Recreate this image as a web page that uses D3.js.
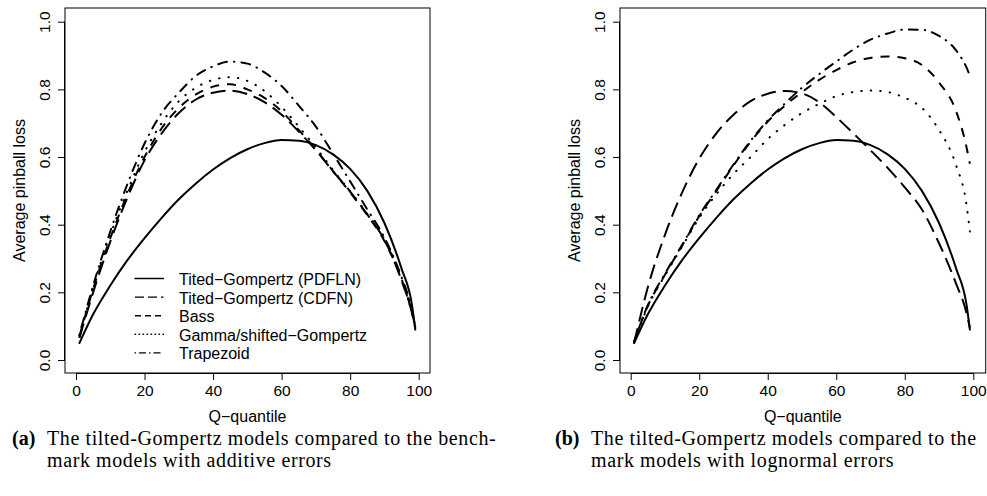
<!DOCTYPE html>
<html>
<head>
<meta charset="utf-8">
<script src="https://cdn.jsdelivr.net/npm/d3@7"></script>
<style>
  html, body { margin: 0; padding: 0; background: #fff; }
  svg { display: block; }
  .tick text, .lab { font-family: "Liberation Sans", Arial, Helvetica, sans-serif; fill: #000; }
  .cap { font-family: "Liberation Serif", "Times New Roman", serif; fill: #000; }
</style>
</head>
<body>
<svg id="fig" width="987" height="496"></svg>
<script>
// Quantile levels (Q) at which the average pinball loss is evaluated
const quantiles = [1, 5, 10, 15, 20, 25, 30, 35, 40, 45, 50, 55, 60, 65, 70, 75, 80, 85, 90, 95, 98, 99];

// Tilted-Gompertz (PDFLN) — same in both panels
const pdflnLoss = [0.05, 0.135, 0.22, 0.295, 0.36, 0.42, 0.475, 0.522, 0.563, 0.597, 0.623, 0.641, 0.650, 0.648, 0.635, 0.608, 0.565, 0.50, 0.405, 0.27, 0.165, 0.09];

// Panel (a): benchmark models with additive errors
const addCdfn  = [0.065, 0.20, 0.35, 0.48, 0.59, 0.67, 0.73, 0.77, 0.79, 0.796, 0.786, 0.762, 0.725, 0.675, 0.62, 0.558, 0.498, 0.43, 0.355, 0.235, 0.14, 0.095];
const addBass  = [0.07, 0.21, 0.36, 0.49, 0.60, 0.685, 0.745, 0.785, 0.808, 0.815, 0.80, 0.775, 0.735, 0.68, 0.622, 0.558, 0.495, 0.428, 0.352, 0.237, 0.142, 0.10];
const addGamma = [0.07, 0.215, 0.37, 0.50, 0.615, 0.70, 0.765, 0.805, 0.828, 0.836, 0.825, 0.795, 0.748, 0.69, 0.628, 0.562, 0.498, 0.432, 0.356, 0.24, 0.145, 0.10];
const addTrap  = [0.075, 0.22, 0.38, 0.52, 0.64, 0.73, 0.79, 0.84, 0.868, 0.882, 0.876, 0.85, 0.81, 0.752, 0.69, 0.61, 0.528, 0.445, 0.362, 0.245, 0.15, 0.10];

// Panel (b): benchmark models with lognormal errors
const logCdfn  = [0.05, 0.215, 0.37, 0.495, 0.595, 0.67, 0.725, 0.765, 0.787, 0.795, 0.788, 0.762, 0.718, 0.67, 0.62, 0.568, 0.51, 0.445, 0.345, 0.225, 0.14, 0.095];
const logBass  = [0.055, 0.16, 0.252, 0.338, 0.425, 0.50, 0.575, 0.645, 0.705, 0.752, 0.792, 0.828, 0.857, 0.88, 0.893, 0.897, 0.892, 0.872, 0.82, 0.735, 0.63, 0.58];
const logGamma = [0.055, 0.158, 0.25, 0.335, 0.42, 0.49, 0.55, 0.60, 0.653, 0.695, 0.73, 0.757, 0.78, 0.792, 0.797, 0.792, 0.775, 0.745, 0.68, 0.575, 0.46, 0.38];
const logTrap  = [0.055, 0.162, 0.255, 0.34, 0.428, 0.503, 0.578, 0.648, 0.708, 0.758, 0.805, 0.845, 0.882, 0.918, 0.947, 0.965, 0.977, 0.976, 0.958, 0.915, 0.865, 0.84];

const seriesNames = ["Tited\u2212Gompertz (PDFLN)", "Tited\u2212Gompertz (CDFN)", "Bass", "Gamma/shifted\u2212Gompertz", "Trapezoid"];
const xTicks = [0, 20, 40, 60, 80, 100];
const yTicks = [0.0, 0.2, 0.4, 0.6, 0.8, 1.0];
const yTickLabels = ["0.0", "0.2", "0.4", "0.6", "0.8", "1.0"];
const xTitle = "Q\u2212quantile";
const yTitle = "Average pinball loss";

// line styles for the five series (solid, long dash, dash, dotted, dot-dash)
const styles = [
  { dash: null,            cap: "round", legDash: null },
  { dash: "15,7",          cap: "butt",  legDash: "9,4" },
  { dash: "9,8",           cap: "butt",  legDash: "6,4" },
  { dash: "0.5,9",         cap: "round", legDash: "0.5,3.5" },
  { dash: "0.5,7,9,7",     cap: "round", legDash: "0.5,4,6,4" }
];

const svg = d3.select("#fig");

function panel(opts) {
  const { left, right, top, bottom, x0, x100, data, legend } = opts;
  const g = svg.append("g");

  const x = d3.scaleLinear().domain([0, 100]).range([x0, x100]);
  const y = d3.scaleLinear().domain([0, 1]).range([360, 21.7]);

  // plot box
  g.append("rect")
    .attr("x", left).attr("y", top)
    .attr("width", right - left).attr("height", bottom - top)
    .attr("fill", "none").attr("stroke", "#000").attr("stroke-width", 1);

  // x axis
  const xa = g.append("g")
    .attr("transform", `translate(0,${bottom})`)
    .call(d3.axisBottom(x).tickValues(xTicks).tickSize(7).tickSizeOuter(0).tickPadding(5).tickFormat(d3.format("d")));
  xa.select(".domain").attr("d", `M${x(0)},0.5H${x(100)}`).attr("stroke", "#000");
  xa.selectAll(".tick line").attr("stroke", "#000");
  xa.selectAll(".tick text").attr("font-size", "15.5px").attr("dy", "0.72em").attr("y", 12);

  // y axis with labels rotated parallel to the axis
  const ya = g.append("g")
    .attr("transform", `translate(${left},0)`)
    .call(d3.axisLeft(y).tickValues(yTicks).tickSize(7).tickSizeOuter(0).tickFormat((d, i) => yTickLabels[i]));
  ya.select(".domain").attr("d", `M-0.5,${y(0)}V${y(1)}`).attr("stroke", "#000");
  ya.selectAll(".tick line").attr("stroke", "#000");
  ya.selectAll(".tick text")
    .attr("font-size", "15.5px")
    .attr("x", null).attr("dy", null)
    .attr("text-anchor", "middle")
    .attr("transform", "translate(-15,0) rotate(-90)");

  // axis titles
  g.append("text").attr("class", "lab")
    .attr("x", (left + right) / 2).attr("y", 421.5)
    .attr("text-anchor", "middle").attr("font-size", "16px")
    .text(xTitle);
  g.append("text").attr("class", "lab")
    .attr("transform", `translate(${left - 40.5},${(top + bottom) / 2}) rotate(-90)`)
    .attr("text-anchor", "middle").attr("font-size", "16px")
    .text(yTitle);

  // curves
  const line = d3.line()
    .x((d, i) => x(quantiles[i]))
    .y(d => y(d))
    .curve(d3.curveMonotoneX);

  data.forEach((vals, k) => {
    const s = styles[k];
    g.append("path")
      .attr("d", line(vals))
      .attr("fill", "none")
      .attr("stroke", "#000")
      .attr("stroke-width", 2)
      .attr("stroke-linecap", s.cap)
      .attr("stroke-dasharray", s.dash);
  });

  if (legend) {
    const lg = g.append("g");
    seriesNames.forEach((name, k) => {
      const base = 285 + k * 18.6;
      const s = styles[k];
      lg.append("line")
        .attr("x1", 135).attr("x2", 163.5)
        .attr("y1", base - 6.5).attr("y2", base - 6.5)
        .attr("stroke", "#000").attr("stroke-width", 1.4)
        .attr("stroke-linecap", s.cap)
        .attr("stroke-dasharray", s.legDash);
      lg.append("text").attr("class", "lab")
        .attr("x", 179).attr("y", base)
        .attr("font-size", "16px")
        .text(name);
    });
  }
}

panel({ left: 65, right: 430, top: 8, bottom: 373, x0: 76, x100: 418.7,
        data: [pdflnLoss, addCdfn, addBass, addGamma, addTrap], legend: true });
panel({ left: 620, right: 985.7, top: 8, bottom: 373, x0: 630.7, x100: 973.3,
        data: [pdflnLoss, logCdfn, logBass, logGamma, logTrap], legend: false });

// sub-figure captions
function caption(xLab, xText, tag, lines) {
  const c = svg.append("g");
  c.append("text").attr("class", "cap")
    .attr("x", xLab).attr("y", 444.5)
    .attr("font-size", "20px").attr("font-weight", "bold")
    .text(tag);
  lines.forEach((t, i) => {
    c.append("text").attr("class", "cap")
      .attr("x", xText).attr("y", 444.5 + i * 22.5)
      .attr("font-size", "20px")
      .attr("letter-spacing", "0.6px")
      .text(t);
  });
}
caption(12, 47, "(a)", ["The tilted-Gompertz models compared to the bench-", "mark models with additive errors"]);
caption(555, 591, "(b)", ["The tilted-Gompertz models compared to the", "mark models with lognormal errors"]);
</script>
</body>
</html>
